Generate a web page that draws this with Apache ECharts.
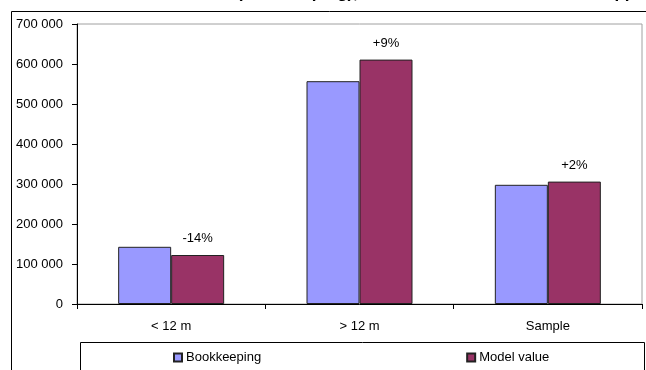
<!DOCTYPE html>
<html>
<head>
<meta charset="utf-8">
<script src="https://cdn.jsdelivr.net/npm/echarts@6/dist/echarts.min.js"></script>
<style>
  html, body { margin: 0; padding: 0; background: #fff; }
  #main { width: 646px; height: 370px; }
</style>
</head>
<body>
<div id="main"></div>
<script>
// data
let categories = ['< 12 m', '> 12 m', 'Sample'];
let bookkeeping = [143000, 557000, 298000];
let modelValue = [122500, 611000, 306000];
let changeLabels = ['-14%', '+9%', '+2%'];
let yTicks = [0, 100000, 200000, 300000, 400000, 500000, 600000, 700000];

let font = 'Liberation Sans, Arial, sans-serif';

function spaced(v) {
  // 700000 -> "700 000"
  return String(v).replace(/\B(?=(\d{3})+(?!\d))/g, ' ');
}

let chart = echarts.init(document.getElementById('main'), null, { renderer: 'canvas' });

let option = {
  animation: false,
  textStyle: { fontFamily: font, color: '#000' },
  // title is cut off at the top edge of the image, only the descenders show
  title: [
    {
      text: '(bookkeeping),',
      right: 646 - 358,
      top: -15,
      padding: 0,
      textStyle: { fontFamily: font, fontSize: 17, fontWeight: 'bold', color: '#000' }
    },
    {
      text: 'approach',
      left: 605,
      top: -15,
      padding: 0,
      textStyle: { fontFamily: font, fontSize: 17, fontWeight: 'bold', color: '#000' }
    }
  ],
  graphic: [
    {
      // outer chart frame (runs off the right and bottom)
      type: 'rect',
      shape: { x: 11.5, y: 11.5, width: 800, height: 500 },
      style: { fill: 'none', stroke: '#000', lineWidth: 1 },
      z: -1
    },
    {
      // legend frame
      type: 'rect',
      shape: { x: 80.5, y: 342.5, width: 564, height: 60 },
      style: { fill: 'none', stroke: '#000', lineWidth: 1 },
      z: -1
    }
  ],
  legend: {
    data: ['Bookkeeping', 'Model value'],
    left: 173,
    top: 351,
    padding: 0,
    itemWidth: 8,
    itemHeight: 8,
    itemGap: 205,
    icon: 'rect',
    textStyle: { fontFamily: font, fontSize: 13, color: '#000', padding: [0, 0, 0, -1] }
  },
  grid: {
    left: 77,
    top: 24,
    right: 4,
    bottom: 66,
    show: true,
    borderColor: '#a0a0a0',
    borderWidth: 1,
    containLabel: false
  },
  xAxis: {
    type: 'category',
    data: categories,
    axisLine: { lineStyle: { color: '#000', width: 1 } },
    axisTick: { show: true, length: 5, inside: false, lineStyle: { color: '#000' } },
    axisLabel: { color: '#000', fontFamily: font, fontSize: 13, margin: 16 }
  },
  yAxis: {
    type: 'value',
    min: yTicks[0],
    max: yTicks[yTicks.length - 1],
    interval: yTicks[1] - yTicks[0],
    axisLine: { show: true, lineStyle: { color: '#000', width: 1 } },
    axisTick: { show: true, length: 5, lineStyle: { color: '#000' } },
    axisLabel: {
      color: '#000',
      fontFamily: font,
      fontSize: 13,
      margin: 14,
      formatter: spaced
    },
    splitLine: { show: false }
  },
  series: [
    {
      name: 'Bookkeeping',
      type: 'bar',
      data: bookkeeping,
      barWidth: 53,
      barGap: '0%',
      itemStyle: { color: '#9999ff', borderColor: '#222', borderWidth: 1 }
    },
    {
      name: 'Model value',
      type: 'bar',
      data: modelValue,
      barWidth: 53,
      barGap: '0%',
      itemStyle: { color: '#993366', borderColor: '#222', borderWidth: 1 },
      label: {
        show: true,
        position: 'top',
        distance: 10,
        color: '#000',
        fontFamily: font,
        fontSize: 13,
        formatter: function (p) { return changeLabels[p.dataIndex]; }
      }
    }
  ]
};

chart.setOption(option);
</script>
</body>
</html>
